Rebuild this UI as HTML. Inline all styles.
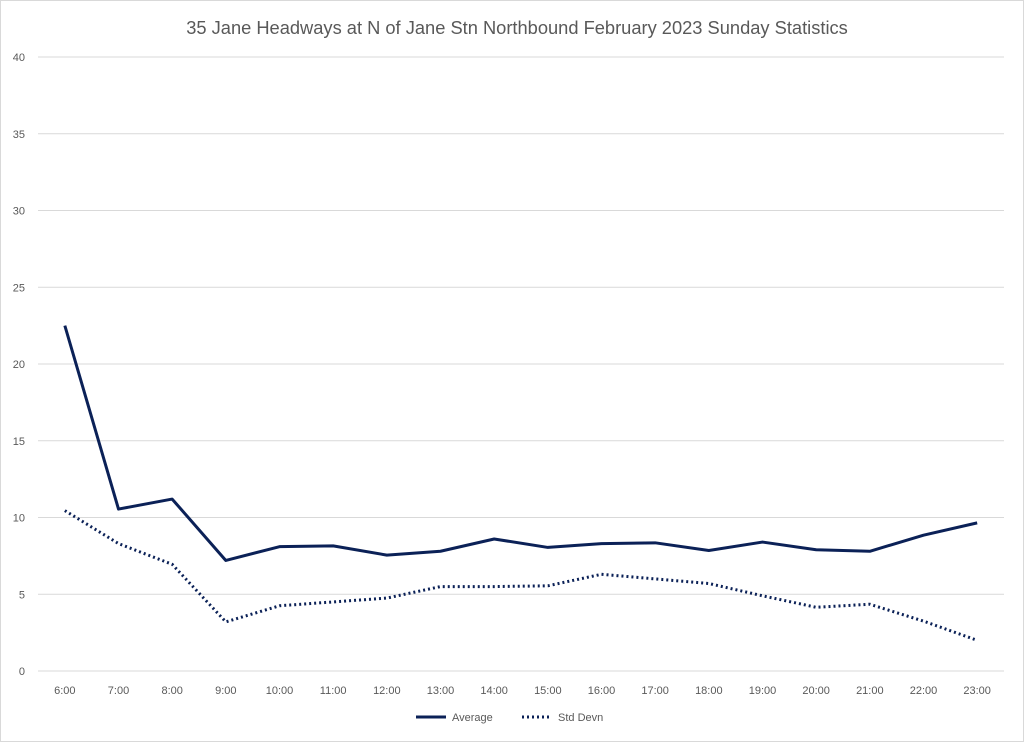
<!DOCTYPE html>
<html><head><meta charset="utf-8"><style>
body{margin:0;background:#fff;font-family:"Liberation Sans",sans-serif;}
svg text{font-family:"Liberation Sans",sans-serif;}
</style></head><body>
<svg id="chart" width="1024" height="742">
<rect x="0.5" y="0.5" width="1023" height="741" fill="#fff" stroke="#d9d9d9"/>
<text x="517" y="34" text-anchor="middle" font-size="18.3" fill="#595959">35 Jane Headways at N of Jane Stn Northbound February 2023 Sunday Statistics</text>
<g id="grid"></g><g id="series"></g>
<g>
<line x1="416" y1="717" x2="446" y2="717" stroke="#0b2157" stroke-width="3"/>
<text x="452" y="721" font-size="11" fill="#595959">Average</text>
<line x1="522" y1="717" x2="552" y2="717" stroke="#0b2157" stroke-width="3" stroke-dasharray="2,3"/>
<text x="558" y="721" font-size="11" fill="#595959">Std Devn</text>
</g>
</svg>
<script>
const categories=["6:00","7:00","8:00","9:00","10:00","11:00","12:00","13:00","14:00","15:00","16:00","17:00","18:00","19:00","20:00","21:00","22:00","23:00"];
const averageValues=[22.5,10.55,11.2,7.2,8.1,8.15,7.55,7.8,8.6,8.05,8.3,8.35,7.85,8.4,7.9,7.8,8.85,9.65];
const stdValues=[10.45,8.3,6.95,3.2,4.25,4.5,4.75,5.5,5.5,5.55,6.3,6.0,5.7,4.9,4.15,4.35,3.25,2.0];
const yTicks=[0,5,10,15,20,25,30,35,40];
const NS="http://www.w3.org/2000/svg";
const x0=38,x1=1004,yTop=57,yBot=671;
const step=(x1-x0)/categories.length;
function xs(i){return x0+step*(i+0.5);}
function ys(v){return yBot-(v/40)*(yBot-yTop);}
const grid=document.getElementById('grid');
yTicks.forEach(t=>{
 const l=document.createElementNS(NS,'line');
 l.setAttribute('x1',x0);l.setAttribute('x2',x1);l.setAttribute('y1',ys(t));l.setAttribute('y2',ys(t));
 l.setAttribute('stroke','#d9d9d9');
 
 
 grid.appendChild(l);
 const tx=document.createElementNS(NS,'text');
 tx.setAttribute('x',25);tx.setAttribute('y',ys(t)+4);tx.setAttribute('text-anchor','end');
 tx.setAttribute('font-size','11');tx.setAttribute('fill','#595959');tx.textContent=t;
 
 
 grid.appendChild(tx);
});
categories.forEach((c,i)=>{
 const tx=document.createElementNS(NS,'text');
 tx.setAttribute('x',xs(i));tx.setAttribute('y',694);tx.setAttribute('text-anchor','middle');
 tx.setAttribute('font-size','11');tx.setAttribute('fill','#595959');tx.textContent=c;
 
 
 grid.appendChild(tx);
});
const ser=document.getElementById('series');
function draw(vals,dash,name){
 const p=document.createElementNS(NS,'polyline');
 p.setAttribute('points',vals.map((v,i)=>xs(i)+','+ys(v)).join(' '));
 p.setAttribute('fill','none');p.setAttribute('stroke','#0b2157');p.setAttribute('stroke-width','3');
 p.setAttribute('stroke-linejoin','round');
 if(dash)p.setAttribute('stroke-dasharray',dash);
 
 
 ser.appendChild(p);
}
draw(averageValues,null,'average-line');
draw(stdValues,'2,3','std-devn-line');
</script>
</body></html>
